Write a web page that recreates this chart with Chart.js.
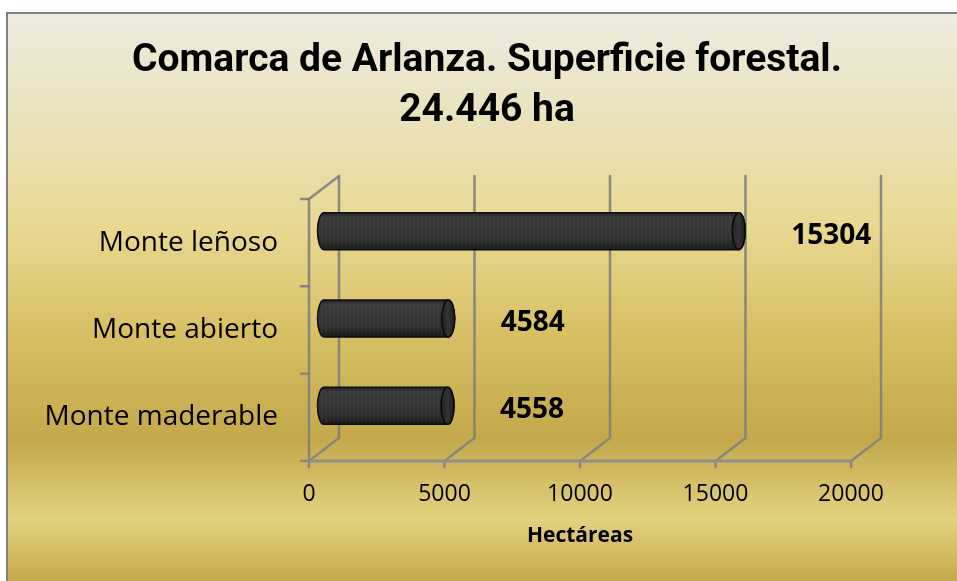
<!DOCTYPE html>
<html lang="es">
<head>
<meta charset="utf-8">
<title>Comarca de Arlanza. Superficie forestal</title>
<script src="https://cdn.jsdelivr.net/npm/chart.js@4.4.0/dist/chart.umd.min.js"></script>
<style>
    html, body { margin: 0; padding: 0; background: #fff; }
    canvas { display: block; }
</style>
</head>
<body>
<canvas id="chart" width="957" height="581"></canvas>
<script>
// Datos
const categories = ['Monte leñoso', 'Monte abierto', 'Monte maderable'];
const hectareas = [15304, 4584, 4558];
const xTicks = [0, 5000, 10000, 15000, 20000];
const titleLines = ['Comarca de Arlanza. Superficie forestal.', '24.446 ha'];
const xAxisTitle = 'Hectáreas';

// profundidad del efecto 3D
const DEPTH_X = 30;
const DEPTH_Y = -23;
const GRID_COLOR = 'rgba(128, 128, 128, 0.9)';

const backgroundPlugin = {
    id: 'background',
    beforeDraw(chart) {
        const { ctx, width, height } = chart;
        ctx.save();
        ctx.fillStyle = '#ffffff';
        ctx.fillRect(0, 0, width, height);
        const g = ctx.createLinearGradient(0, 12, 0, height);
        g.addColorStop(0, '#eeebe0');
        g.addColorStop(0.19, '#eae2bc');
        g.addColorStop(0.38, '#e8d890');
        g.addColorStop(0.56, '#d8c065');
        g.addColorStop(0.75, '#c4a84b');
        g.addColorStop(0.89, '#e3d280');
        g.addColorStop(1, '#c5a94b');
        ctx.fillStyle = g;
        ctx.fillRect(6, 12, width - 6, height - 12);
        ctx.strokeStyle = '#808080';
        ctx.lineWidth = 2;
        ctx.beginPath();
        ctx.moveTo(7, height);
        ctx.lineTo(7, 13);
        ctx.lineTo(width, 13);
        ctx.stroke();
        ctx.restore();
    }
};

// paredes y suelo del grafico 3D
const walls3dPlugin = {
    id: 'walls3d',
    beforeDatasetsDraw(chart) {
        const { ctx, chartArea, scales } = chart;
        const { left, top, bottom } = chartArea;
        const x = scales.x;
        ctx.save();
        ctx.strokeStyle = GRID_COLOR;
        ctx.lineWidth = 2.5;
        ctx.lineCap = 'round';

        // pared izquierda
        ctx.beginPath();
        ctx.moveTo(left, bottom);
        ctx.lineTo(left, top);
        ctx.lineTo(left + DEPTH_X, top + DEPTH_Y);
        ctx.stroke();

        // lineas de division de categorias
        const n = categories.length;
        for (let k = 0; k <= n; k++) {
            const yy = top + k * (bottom - top) / n;
            ctx.beginPath();
            ctx.moveTo(left - 8, yy);
            ctx.lineTo(left, yy);
            ctx.stroke();
        }

        // lineas de la cuadricula (pared del fondo) y suelo
        xTicks.forEach(v => {
            const fx = x.getPixelForValue(v);
            ctx.beginPath();
            ctx.moveTo(fx, bottom + 6);
            ctx.lineTo(fx, bottom);
            ctx.lineTo(fx + DEPTH_X, bottom + DEPTH_Y);
            ctx.lineTo(fx + DEPTH_X, top + DEPTH_Y);
            ctx.stroke();
        });

        ctx.lineWidth = 3;
        ctx.strokeStyle = 'rgba(140, 140, 140, 0.95)';
        ctx.beginPath();
        ctx.moveTo(left, bottom);
        ctx.lineTo(x.getPixelForValue(xTicks[xTicks.length - 1]), bottom);
        ctx.stroke();
        ctx.restore();
    }
};

// cilindros y etiquetas de valor
const cylinderPlugin = {
    id: 'cylinders',
    afterDatasetsDraw(chart) {
        const { ctx } = chart;
        const meta = chart.getDatasetMeta(0);
        const rx = 6.5;
        ctx.save();
        meta.data.forEach((bar, i) => {
            const x0 = bar.base + DEPTH_X / 2;
            const x1 = bar.x + DEPTH_X / 2;
            const cy = bar.y + DEPTH_Y / 2;
            const ry = bar.height / 2;

            const body = new Path2D();
            body.moveTo(x1, cy - ry);
            body.lineTo(x0, cy - ry);
            body.ellipse(x0, cy, rx, ry, 0, -Math.PI / 2, Math.PI / 2, true);
            body.lineTo(x1, cy + ry);
            body.ellipse(x1, cy, rx, ry, 0, Math.PI / 2, -Math.PI / 2, true);
            body.closePath();

            const g = ctx.createLinearGradient(0, cy - ry, 0, cy + ry);
            g.addColorStop(0, '#1c1c1c');
            g.addColorStop(0.12, '#3a3a3a');
            g.addColorStop(0.45, '#353535');
            g.addColorStop(0.75, '#2e2e2e');
            g.addColorStop(1, '#151515');
            ctx.fillStyle = g;
            ctx.fill(body);

            // textura
            ctx.save();
            ctx.clip(body);
            ctx.strokeStyle = 'rgba(90, 90, 90, 0.35)';
            ctx.lineWidth = 1;
            for (let sx = x0 - rx; sx < x1 + rx; sx += 4) {
                ctx.beginPath();
                ctx.moveTo(sx + 0.5, cy - ry);
                ctx.lineTo(sx + 0.5, cy + ry);
                ctx.stroke();
            }
            ctx.restore();

            ctx.strokeStyle = '#0c0c0c';
            ctx.lineWidth = 1.5;
            ctx.stroke(body);

            // tapa derecha
            const cap = new Path2D();
            cap.ellipse(x1, cy, rx, ry, 0, 0, Math.PI * 2);
            const cg = ctx.createLinearGradient(x1 - rx, 0, x1 + rx, 0);
            cg.addColorStop(0, '#222222');
            cg.addColorStop(0.5, '#333333');
            cg.addColorStop(1, '#1e1e1e');
            ctx.fillStyle = cg;
            ctx.fill(cap);
            ctx.strokeStyle = '#080808';
            ctx.lineWidth = 1.5;
            ctx.stroke(cap);

            // etiqueta
            ctx.fillStyle = '#000';
            ctx.font = 'bold 28px "Open Sans"';
            ctx.textAlign = 'left';
            ctx.textBaseline = 'middle';
            ctx.fillText(String(hectareas[i]), x1 + rx + 46, bar.y - 7);
        });
        ctx.restore();
    }
};

new Chart(document.getElementById('chart'), {
    type: 'bar',
    data: {
        labels: categories,
        datasets: [{
            label: 'Hectáreas',
            data: hectareas,
            backgroundColor: 'rgba(0,0,0,0)',
            borderWidth: 0,
            barThickness: 37
        }]
    },
    options: {
        indexAxis: 'y',
        responsive: false,
        animation: false,
        devicePixelRatio: 1,
        layout: { padding: { left: 17, right: 0, top: 0, bottom: 0 } },
        plugins: {
            legend: { display: false },
            tooltip: { enabled: false },
            title: {
                display: true,
                text: titleLines,
                color: '#000',
                font: { family: 'Roboto, "Open Sans", sans-serif', size: 39, weight: 'bold', lineHeight: 50 / 39 },
                padding: { top: 36, bottom: 63 }
            }
        },
        scales: {
            x: {
                min: 0,
                max: 20000,
                afterBuildTicks(scale) {
                    scale.ticks = xTicks.map(v => ({ value: v }));
                },
                afterFit(scale) { scale.height = 120; },
                grid: { display: false, drawTicks: false },
                border: { display: false },
                ticks: {
                    color: '#000',
                    font: { family: '"Open Sans"', size: 23 },
                    padding: 20,
                    maxRotation: 0,
                    callback: (value) => String(value)
                },
                title: {
                    display: true,
                    text: xAxisTitle,
                    color: '#000',
                    font: { family: '"Open Sans"', size: 21, weight: 'bold' },
                    padding: { top: 0, bottom: 32 }
                }
            },
            y: {
                afterFit(scale) { scale.width = 292; },
                grid: { display: false, drawTicks: false },
                border: { display: false },
                ticks: {
                    color: '#000',
                    font: { family: '"Open Sans"', size: 28 },
                    padding: 31
                }
            },
            // eje vacio a la derecha: reserva el margen sin descentrar el titulo
            yRight: {
                type: 'category',
                position: 'right',
                afterFit(scale) { scale.width = 106; },
                grid: { display: false, drawTicks: false },
                border: { display: false },
                ticks: { display: false }
            }
        }
    },
    plugins: [backgroundPlugin, walls3dPlugin, cylinderPlugin]
});
</script>
</body>
</html>
